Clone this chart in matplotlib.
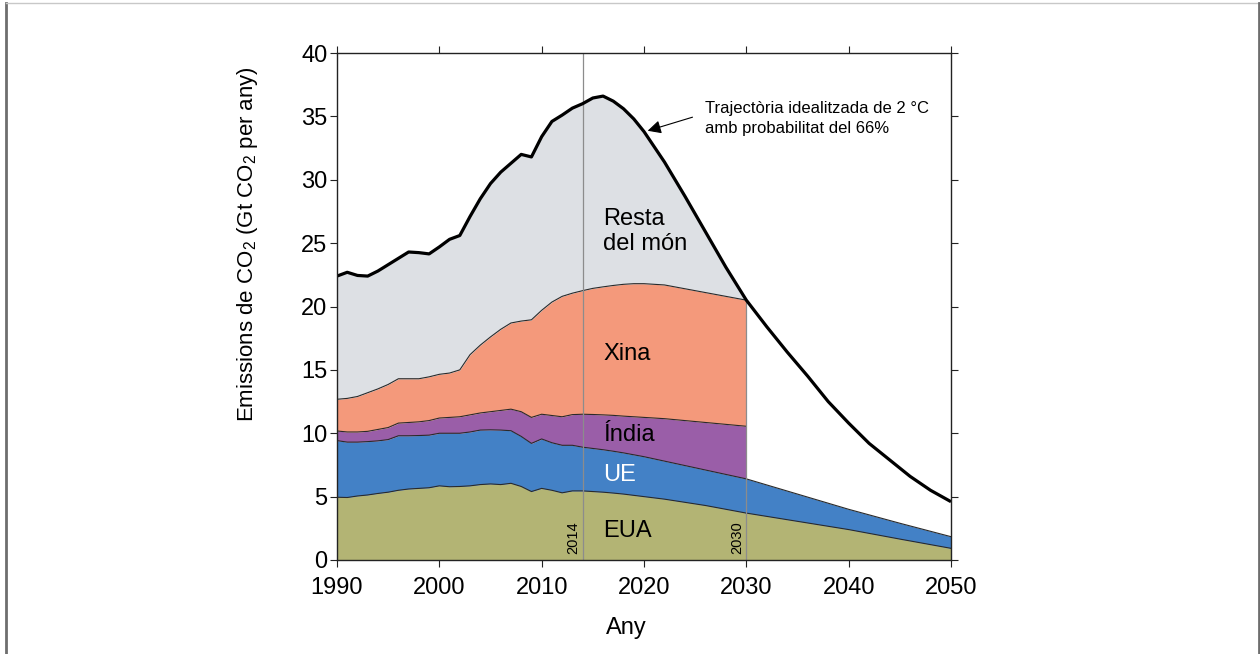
import numpy as np
import matplotlib.pyplot as plt
from matplotlib.lines import Line2D

plt.rcParams['font.family'] = ['Liberation Sans', 'DejaVu Sans']
plt.rcParams['mathtext.fontset'] = 'custom'
plt.rcParams['mathtext.rm'] = 'Liberation Sans'
plt.rcParams['mathtext.it'] = 'Liberation Sans:italic'

#-- historical + projection up to 2030 (Gt CO2 per year, per region)
years = list(range(1990, 2021)) + [2022, 2024, 2026, 2028, 2030]
eua = [4.95, 4.93, 5.05, 5.13, 5.25, 5.35, 5.5, 5.6, 5.65, 5.7,
       5.85, 5.78, 5.8, 5.85, 5.95, 6.0, 5.95, 6.05, 5.8, 5.4,
       5.65, 5.5, 5.3, 5.45, 5.45, 5.4, 5.35, 5.28, 5.2, 5.1, 5.0,
       4.8, 4.55, 4.3, 4.0, 3.7]
ue = [4.47, 4.37, 4.25, 4.21, 4.15, 4.15, 4.3, 4.2, 4.17, 4.15,
      4.15, 4.22, 4.2, 4.25, 4.3, 4.27, 4.3, 4.15, 3.95, 3.8,
      3.9, 3.75, 3.75, 3.6, 3.45, 3.4, 3.35, 3.3, 3.25, 3.2, 3.15,
      3.0, 2.9, 2.8, 2.75, 2.7]
india = [0.76, 0.8, 0.8, 0.81, 0.9, 0.95, 1.0, 1.05, 1.08, 1.15,
         1.2, 1.25, 1.3, 1.35, 1.35, 1.43, 1.55, 1.7, 1.95, 2.05,
         1.95, 2.15, 2.25, 2.42, 2.6, 2.68, 2.75, 2.83, 2.9, 3.0, 3.1,
         3.35, 3.55, 3.75, 3.95, 4.15]
xina = [2.5, 2.65, 2.8, 3.05, 3.2, 3.4, 3.5, 3.45, 3.4, 3.45,
        3.45, 3.5, 3.7, 4.75, 5.35, 5.9, 6.4, 6.8, 7.15, 7.7,
        8.2, 8.95, 9.5, 9.58, 9.75, 9.95, 10.1, 10.25, 10.4, 10.5, 10.55,
        10.55, 10.4, 10.25, 10.1, 9.95]
resta = [9.72, 9.95, 9.55, 9.2, 9.3, 9.45, 9.5, 10.0, 9.95, 9.7,
         10.05, 10.55, 10.6, 10.9, 11.55, 12.1, 12.4, 12.6, 13.15, 12.85,
         13.7, 14.25, 14.3, 14.6, 14.75, 15.02, 15.05, 14.54, 13.85, 13.0, 12.0,
         9.7, 7.3, 4.8, 2.3, 0.0]

#-- after 2030 only EUA and UE are split out
years_late = [2030, 2035, 2040, 2045, 2050]
eua_late = [3.7, 3.05, 2.4, 1.65, 0.92]
ue_late = [2.7, 2.15, 1.6, 1.25, 0.92]

#-- 2 C pathway after 2030 (total)
path_years = [2032, 2034, 2036, 2038, 2040, 2042, 2044, 2046, 2048, 2050]
path_total = [18.4, 16.4, 14.5, 12.5, 10.8, 9.2, 7.9, 6.6, 5.5, 4.6]

colors = ['#b3b474', '#4381c6', '#9a5ea8', '#f4997b', '#dde0e4']
edge = '#2a2a2a'

fig = plt.figure(figsize=(12.6, 6.54), dpi=100)
ax = fig.add_axes([337 / 1260, 94 / 654, 614 / 1260, 507 / 654])

#-- stacked areas up to 2030
stack = np.cumsum(np.vstack([eua, ue, india, xina, resta]), axis=0)
base = np.zeros(len(years))
for top, c in zip(stack, colors):
    ax.fill_between(years, base, top, color=c, lw=0)
    base = top
for top in stack[:4]:
    ax.plot(years, top, color=edge, lw=0.8)

#-- after 2030
stack_late = np.cumsum(np.vstack([eua_late, ue_late]), axis=0)
base = np.zeros(len(years_late))
for top, c in zip(stack_late, colors[:2]):
    ax.fill_between(years_late, base, top, color=c, lw=0)
    ax.plot(years_late, top, color=edge, lw=0.8)
    base = top

#-- marker lines for 2014 and 2030
ax.vlines(2014, 0, 40, color='#8c8c8c', lw=0.9)
ax.vlines(2030, 0, stack[4][-1], color='#8c8c8c', lw=0.9)
ax.text(2013.8, 0.5, '2014', rotation=90, ha='right', va='bottom', fontsize=10.5)
ax.text(2029.8, 0.5, '2030', rotation=90, ha='right', va='bottom', fontsize=10.5)

#-- total line (history + pathway)
ax.plot(list(years) + path_years, list(stack[4]) + path_total, color='k', lw=2.3,
        solid_joinstyle='round', solid_capstyle='butt')

#-- region labels
ax.text(2016, 26.45, 'Resta', fontsize=17)
ax.text(2016, 24.45, 'del món', fontsize=17)
ax.text(2016, 15.8, 'Xina', fontsize=17)
ax.text(2016, 9.35, 'Índia', fontsize=17)
ax.text(2016, 6.2, 'UE', fontsize=17, color='white')
ax.text(2016, 1.85, 'EUA', fontsize=17)

ax.text(2026, 35.3, 'Trajectòria idealitzada de 2 °C', fontsize=12)
ax.text(2026, 33.7, 'amb probabilitat del 66%', fontsize=12)
ax.annotate('', xy=(2020.1, 33.8), xytext=(2025.0, 35.0),
            arrowprops=dict(arrowstyle='-|>', color='k', lw=0.8, mutation_scale=20))

ax.set_xlim(1990, 2050)
ax.set_ylim(0, 40)
ax.set_xticks(range(1990, 2051, 10))
ax.set_yticks(range(0, 41, 5))
ax.tick_params(direction='out', top=True, right=True, length=5, width=0.8,
               labelsize=17, color='#222')
ax.tick_params(axis='x', pad=7)
ax.tick_params(axis='y', pad=2)
for s in ax.spines.values():
    s.set_color('#222')
    s.set_linewidth(1.0)

fig.text(248 / 1260, 1 - 244 / 654, r'Emissions de CO$_2$ (Gt CO$_2$ per any)',
         rotation=90, ha='center', va='center', fontsize=16)
fig.text(626.5 / 1260, 1 - 628 / 654, 'Any', ha='center', va='center', fontsize=17)

#-- page frame
fig.add_artist(Line2D([6 / 1260, 6 / 1260], [0, 1 - 3 / 654], color='#6e6e6e', lw=2))
fig.add_artist(Line2D([6 / 1260, 1259 / 1260], [1 - 3 / 654, 1 - 3 / 654], color='#c8c8c8', lw=1))
fig.add_artist(Line2D([1259 / 1260, 1259 / 1260], [0, 1 - 3 / 654], color='#6e6e6e', lw=2))

fig.savefig('out.png', dpi=100)
